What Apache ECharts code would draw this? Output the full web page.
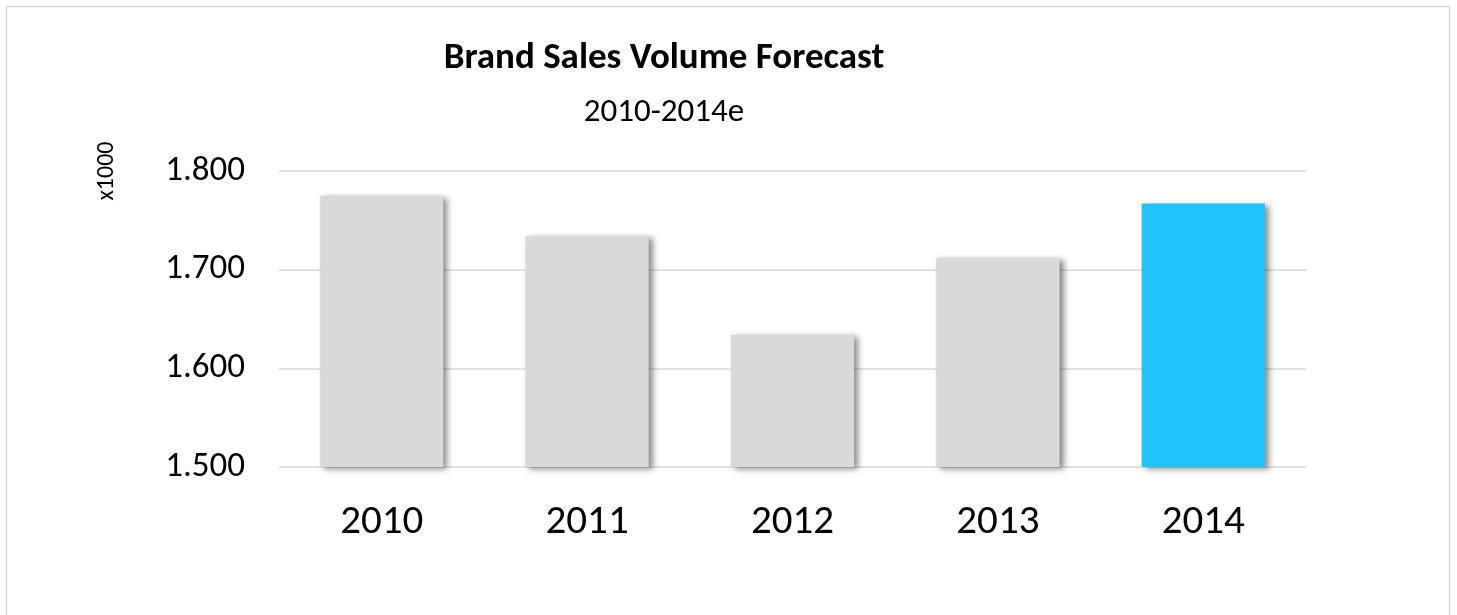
<!DOCTYPE html>
<html>
<head>
<meta charset="utf-8">
<title>Brand Sales Volume Forecast</title>
<script src="https://cdn.jsdelivr.net/npm/echarts@6/dist/echarts.min.js"></script>
<style>
  html, body { margin: 0; padding: 0; background: #ffffff; }
  #chart { width: 1457px; height: 615px; }
</style>
</head>
<body>
<div id="chart"></div>
<script>
// Sales volume per year, in thousands (2014 is the estimate)
const years = ['2010', '2011', '2012', '2013', '2014'];
const volumes = [1.775, 1.734, 1.634, 1.712, 1.767];
const estimateYear = '2014';

const FONT = "Calibri, Carlito, 'Open Sans', sans-serif";
const GREY = '#d9d9d9';
const BLUE = '#21c4ff';

const chart = echarts.init(document.getElementById('chart'), null, { renderer: 'canvas' });

chart.setOption({
  animation: false,
  backgroundColor: '#ffffff',
  graphic: [
    {
      type: 'rect',
      shape: { x: 6.5, y: 6.5, width: 1443, height: 700 },
      style: { fill: 'none', stroke: GREY, lineWidth: 1.5 },
      silent: true
    },
    {
      type: 'text',
      x: 664, y: 59,
      style: {
        text: 'Brand Sales Volume Forecast',
        font: 'bold 37px ' + FONT,
        fill: '#000000', textAlign: 'center', textVerticalAlign: 'middle'
      }
    },
    {
      type: 'text',
      x: 664, y: 113,
      style: {
        text: '2010-2014e',
        font: '33px ' + FONT,
        fill: '#000000', textAlign: 'center', textVerticalAlign: 'middle'
      }
    },
    {
      type: 'text',
      x: 107, y: 171,
      rotation: Math.PI / 2,
      style: {
        text: 'x1000',
        font: '24px ' + FONT,
        fill: '#000000', textAlign: 'center', textVerticalAlign: 'middle'
      }
    }
  ],
  grid: { left: 279, right: 151, top: 171, bottom: 148, containLabel: false },
  xAxis: {
    type: 'category',
    data: years,
    axisLine: { show: false },
    axisTick: { show: false },
    axisLabel: {
      color: '#000000', fontFamily: FONT, fontSize: 41,
      lineHeight: 41, margin: 35, verticalAlign: 'top'
    }
  },
  yAxis: {
    type: 'value',
    min: 1.5,
    max: 1.8,
    interval: 0.1,
    axisLine: { show: false },
    axisTick: { show: false },
    splitLine: { lineStyle: { color: GREY, width: 1.5 } },
    axisLabel: {
      color: '#000000', fontFamily: FONT, fontSize: 35, margin: 34,
      formatter: v => v.toFixed(3)
    }
  },
  series: [{
    type: 'bar',
    barCategoryGap: '40%',
    data: volumes.map((v, i) => ({
      value: v,
      itemStyle: { color: years[i] === estimateYear ? BLUE : GREY }
    })),
    itemStyle: {
      shadowBlur: 6,
      shadowOffsetX: 4,
      shadowOffsetY: 2,
      shadowColor: 'rgba(0,0,0,0.45)'
    }
  }]
});
</script>
</body>
</html>
